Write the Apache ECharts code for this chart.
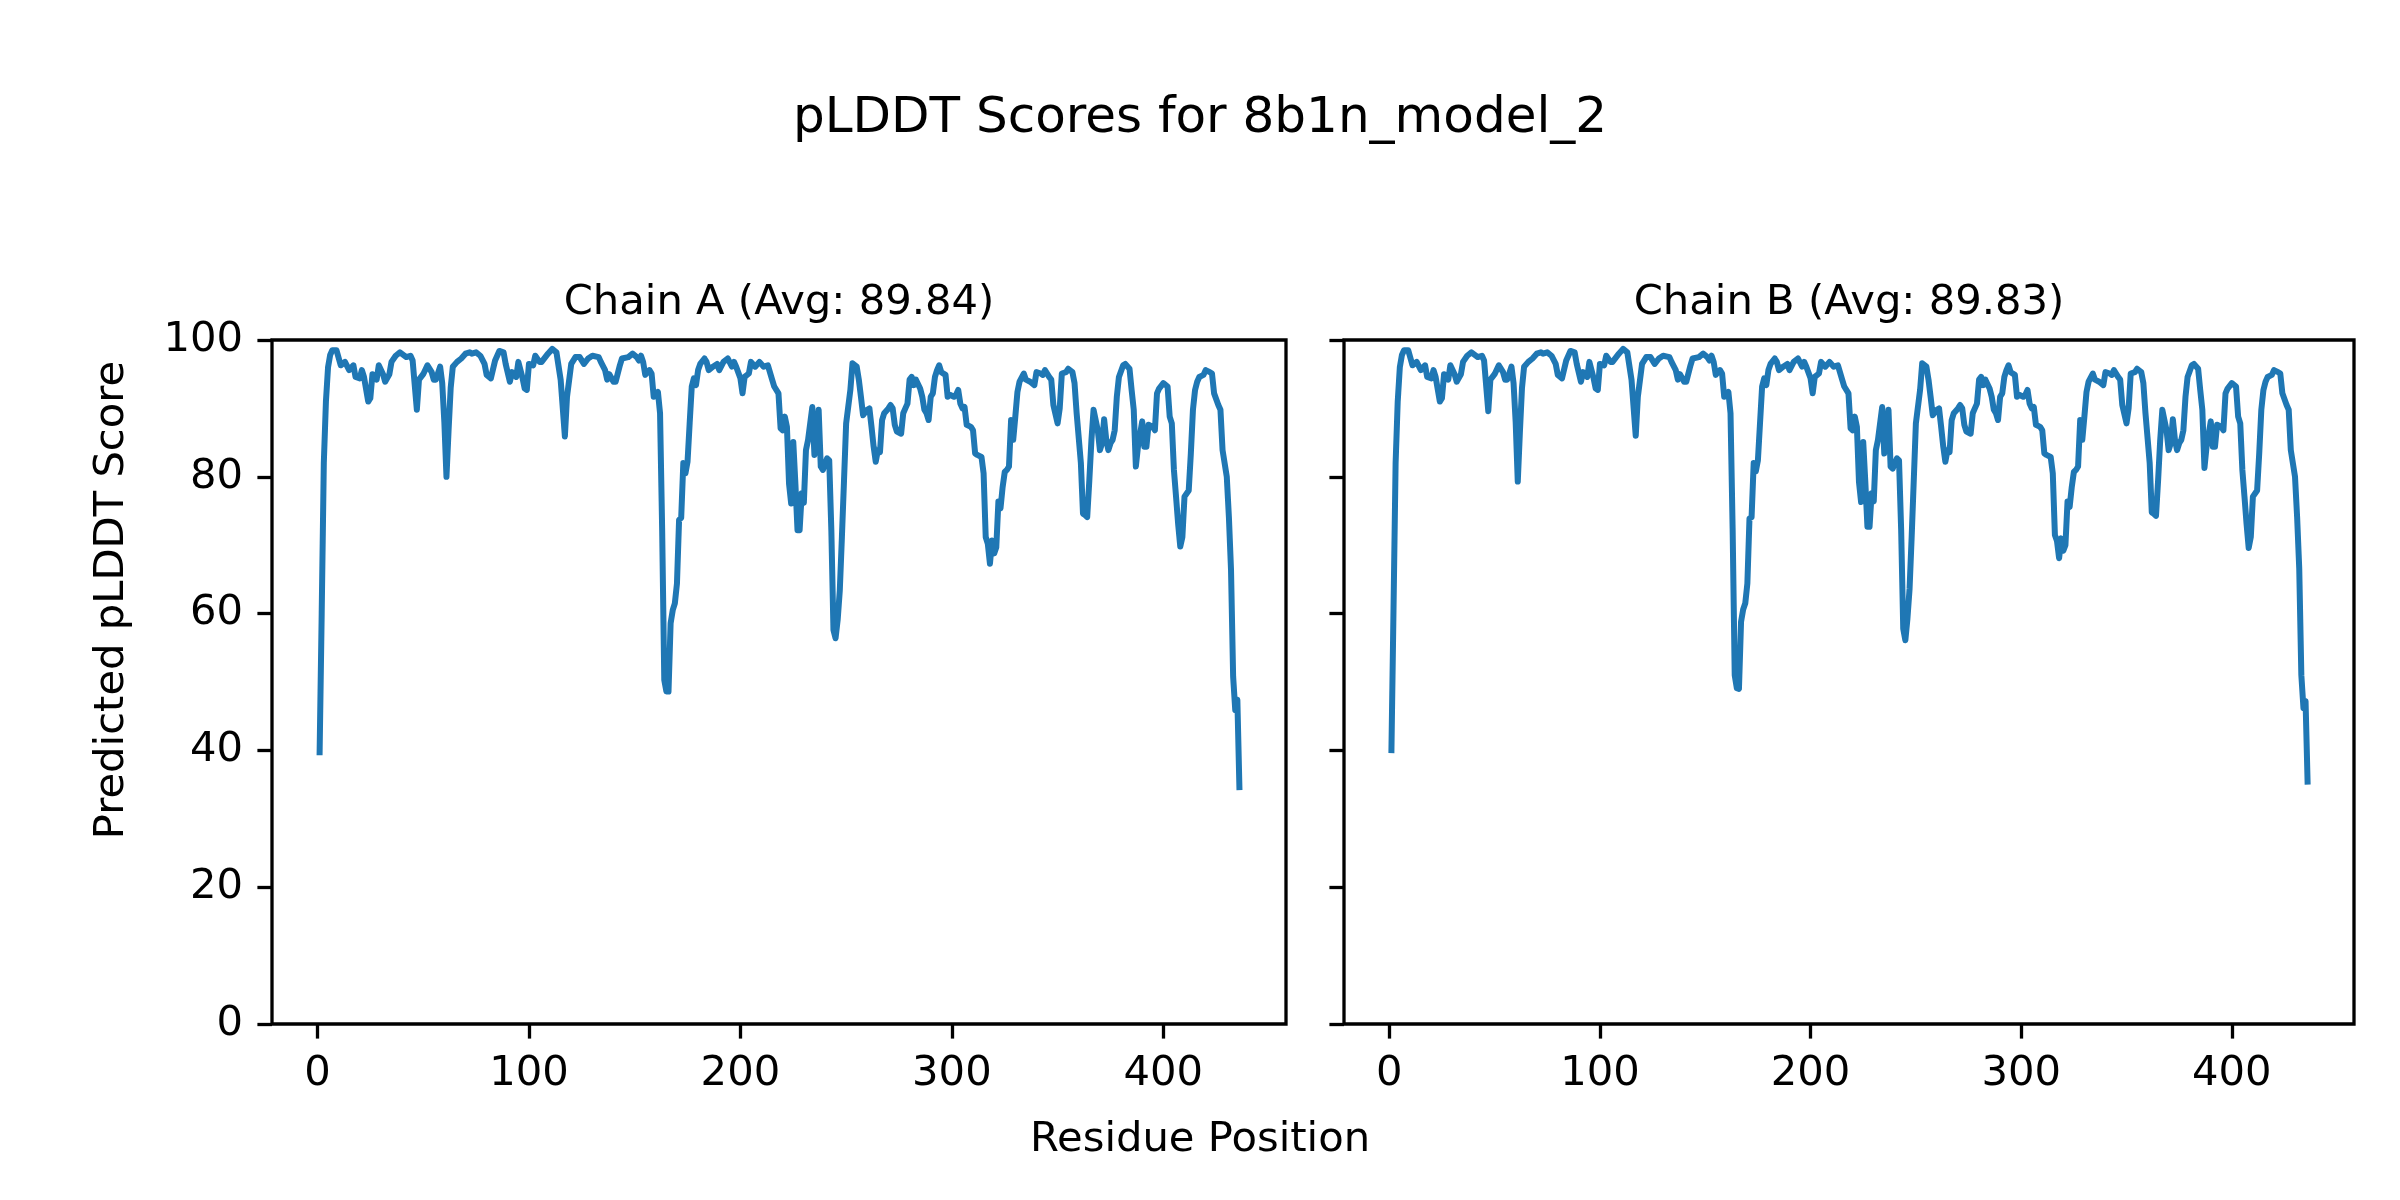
<!DOCTYPE html>
<html>
<head>
<meta charset="utf-8">
<script src="https://cdn.jsdelivr.net/npm/echarts@6/dist/echarts.min.js"></script>
<style>
html,body{margin:0;padding:0;background:#fff;}
#chart{width:2400px;height:1200px;}
</style>
</head>
<body>
<div id="chart"></div>
<script>
// ---------------- DATA ----------------
const figureTitle = 'pLDDT Scores for 8b1n_model_2';
const chainTitles = ['Chain A (Avg: 89.84)', 'Chain B (Avg: 89.83)'];
const xAxisTitle = 'Residue Position';
const yAxisTitle = 'Predicted pLDDT Score';
const xTicks = [0, 100, 200, 300, 400];
const yTicks = [0, 20, 40, 60, 80, 100];

const residues = [
  1,2,3,4,5,6,7,9,11,13,15,17,18,20,21,22,24,25,26,28,29,31,32,34,35,37,39,42,44,45,
  47,48,50,52,54,55,56,58,59,60,61,62,63,64,66,68,70,72,73,75,77,79,80,82,84,86,88,89,91,92,
  94,95,97,98,99,100,102,103,105,106,109,111,113,115,117,118,120,122,124,126,128,130,133,134,136,137,138,140,141,143,
  144,147,149,151,152,153,154,155,157,158,159,161,162,163,164,165,166,167,168,169,170,171,172,173,174,175,176,177,178,179,
  180,181,183,184,185,187,189,190,192,194,196,197,198,200,201,202,204,205,207,209,211,213,215,216,218,219,220,221,222,223,
  224,225,226,227,228,229,230,231,232,234,235,237,238,239,241,242,243,244,245,246,247,248,249,250,252,253,255,256,257,258,
  260,261,262,263,264,265,266,267,268,270,271,272,273,274,276,277,278,279,280,281,282,283,285,286,287,288,289,290,291,292,
  293,294,295,297,298,299,301,302,303,304,305,306,307,309,310,311,312,314,315,316,317,318,319,320,321,322,323,324,325,326,
  327,328,329,330,331,332,334,335,337,339,340,342,343,344,346,347,348,350,351,352,354,355,357,358,359,361,362,363,364,365,
  366,367,368,369,370,371,372,373,374,375,376,377,378,379,381,382,384,385,386,387,388,390,391,392,393,395,396,397,398,400,
  402,403,404,405,406,407,408,409,410,412,413,414,415,416,417,419,420,422,423,424,426,427,428,430,431,432,433,434,435,436
];

const scoresA = [
  39.3,60,82,91,96,97.8,98.5,98.5,96.3,96.8,95.6,96.3,94.6,94.4,95.6,94.6,91.0,91.5,95,94.2,96.3,95,93.9,95,96.8,97.7,98.2,97.5,97.7,97,
  89.8,94.2,95,96.3,95.3,94.2,94.2,96.1,93.7,88,80,86.8,93,96.1,96.8,97.3,98,98.2,98,98.2,97.7,96.5,94.9,94.4,97,98.4,98.2,96.5,93.9,95.3,
  94.6,96.8,94.4,92.9,92.7,96.5,96.3,97.7,96.8,96.8,98,98.7,98.2,94.2,85.9,91.7,96.5,97.5,97.5,96.5,97.3,97.7,97.5,96.8,95.6,94.2,95,93.9,93.9,96.3,
  97.3,97.5,98,97.5,97,97.7,96.8,94.9,95.6,95.1,91.7,92.4,89.3,72.2,50.3,48.6,48.6,58.6,60.5,61.5,64.4,73.7,74,82,80.5,82.2,87.8,93.2,94.4,93.4,
  95.6,96.5,97.3,96.8,95.6,96.1,96.5,95.6,96.8,97.3,96.1,96.8,96.1,94.4,92.2,94.6,95.1,96.8,96.1,96.8,96.1,96.3,94.2,93.2,92.2,87.1,86.8,88.8,87.3,79,
  76.1,85.1,79,72.2,72.2,77.6,76.2,83.9,85.4,90.2,83.2,89.8,81.5,81,82.7,82.4,72.2,57.6,56.4,59.1,63.4,71.2,79.5,87.8,92.7,96.6,96.1,94.2,91.7,89,
  89.8,90,87.3,84.4,82.2,83.9,83.6,88.3,89.3,90,90.5,90,87.6,86.6,86.3,89.3,90,90.7,94.2,94.6,93.4,94.2,92.9,91.7,89.8,89.3,88.3,91.7,92.2,94.6,
  95.6,96.3,95.3,94.9,91.7,92,91.7,92,92.7,90.7,90,90.2,87.6,87.3,86.8,83.4,83.2,82.9,80.5,71.2,70.2,67.3,70.7,68.8,69.7,76.4,75.4,78.5,80.7,81,
  81.5,88.3,85.4,88.8,92.4,93.9,95.1,94.2,93.9,93.4,95.3,95.1,94.9,95.6,94.6,94.2,90.5,87.8,90,95.1,95.3,95.8,95.3,93.7,89.3,82,74.6,74.4,74.1,79.5,
  85.4,89.8,88.3,86.8,83.9,84.9,88.4,85.4,83.9,84.9,85.4,86.8,91.7,94.6,96.3,96.5,95.8,92.7,89.8,81.5,84.4,88.1,84.4,84.4,87.6,87.3,86.8,92.2,92.9,93.7,
  93.2,88.8,87.8,81,77.1,73.1,69.8,71.2,77.1,78,83.4,89.8,92.7,93.9,94.6,94.9,95.6,95.3,95.1,92.2,90.5,89.8,83.9,80,74.1,66.4,50.8,45.9,47.4,34.2
];

const scoresB = [
  39.6,60.5,82,91,96,97.8,98.5,98.5,96.3,96.8,95.6,96.3,94.6,94.4,95.6,94.6,91.0,91.5,95,94.2,96.3,95,93.9,95,96.8,97.7,98.2,97.5,97.7,97,
  89.6,94.2,95,96.3,95.3,94.2,94.2,96.1,93.7,88,79.3,86.5,93,96.1,96.8,97.3,98,98.2,98,98.2,97.7,96.5,94.9,94.4,97,98.4,98.2,96.5,93.9,95.3,
  94.6,96.8,94.4,92.9,92.7,96.5,96.3,97.7,96.8,96.8,98,98.7,98.2,94.2,86.0,91.7,96.5,97.5,97.5,96.5,97.3,97.7,97.5,96.8,95.6,94.2,95,93.9,93.9,96.3,
  97.3,97.5,98,97.5,97,97.7,96.8,94.9,95.6,95.1,91.7,92.4,89.3,72.5,51.0,49.1,49.0,58.8,60.6,61.5,64.4,73.9,74.1,82,80.8,82.4,87.8,93.2,94.4,93.4,
  95.6,96.5,97.3,96.8,95.6,96.1,96.5,95.6,96.8,97.3,96.1,96.8,96.1,94.4,92.2,94.6,95.1,96.8,96.1,96.8,96.1,96.3,94.2,93.2,92.2,87.1,86.8,88.8,87.3,79.2,
  76.3,85.1,79.2,72.7,72.7,77.6,76.4,83.9,85.4,90.2,83.4,89.8,81.5,81.2,82.7,82.4,72.4,57.8,56.1,59.3,63.6,71.2,79.5,87.8,92.7,96.6,96.1,94.2,91.7,89,
  89.8,90,87.3,84.4,82.2,83.9,83.6,88.3,89.3,90,90.5,90,87.6,86.6,86.3,89.3,90,90.7,94.2,94.6,93.4,94.2,92.9,91.7,89.8,89.3,88.3,91.7,92.2,94.6,
  95.6,96.3,95.3,94.9,91.7,92,91.7,92,92.7,90.7,90,90.2,87.6,87.3,86.8,83.4,83.2,82.9,80.5,71.5,70.6,68.1,71.0,69.2,70.0,76.4,75.6,78.5,80.7,81,
  81.5,88.3,85.4,88.8,92.4,93.9,95.1,94.2,93.9,93.4,95.3,95.1,94.9,95.6,94.6,94.2,90.5,87.8,90,95.1,95.3,95.8,95.3,93.7,89.3,82,74.8,74.6,74.3,79.5,
  85.4,89.8,88.3,86.8,83.9,84.9,88.4,85.4,83.9,84.9,85.4,86.8,91.7,94.6,96.3,96.5,95.8,92.7,89.8,81.3,84.4,88.1,84.4,84.4,87.6,87.3,86.8,92.2,92.9,93.7,
  93.2,88.8,87.8,81,77.1,73.1,69.6,71.2,77.1,78,83.4,89.8,92.7,93.9,94.6,94.9,95.6,95.3,95.1,92.2,90.5,89.8,83.9,80,74.1,66.6,51.0,46.2,47.2,35.0
];

// ---------------- CHART ----------------
const FONT = 'DejaVu Sans';
const BLUE = '#1f77b4';
const gridsPx = [
  {left: 272, top: 340, width: 1014, height: 684},
  {left: 1344, top: 340, width: 1010, height: 684}
];

const chart = echarts.init(document.getElementById('chart'), null, {renderer: 'canvas'});

const allScores = [scoresA, scoresB];

const textStyle = (size) => ({
  font: size + 'px "' + FONT + '"', fill: '#000',
  align: 'center', verticalAlign: 'middle', textAlign: 'center', textVerticalAlign: 'middle'
});

const option = {
  animation: false,
  backgroundColor: '#ffffff',
  grid: gridsPx.map(g => Object.assign({}, g, {
    show: true, borderColor: '#000', borderWidth: 3.3, backgroundColor: 'transparent', containLabel: false
  })),
  xAxis: gridsPx.map((g, i) => ({
    type: 'value', gridIndex: i, min: -21.5, max: 458,
    axisLine: {show: false, onZero: false},
    splitLine: {show: false},
    axisTick: {show: true, inside: false, length: 14.6, customValues: xTicks,
      lineStyle: {color: '#000', width: 3.3}},
    axisLabel: {show: true, customValues: xTicks, margin: 29, fontSize: 41.7,
      color: '#000', fontFamily: FONT}
  })),
  yAxis: gridsPx.map((g, i) => ({
    type: 'value', gridIndex: i, min: 0, max: 100, interval: 20,
    axisLine: {show: false, onZero: false},
    splitLine: {show: false},
    axisTick: {show: true, inside: false, length: 14.6,
      lineStyle: {color: '#000', width: 3.3}},
    axisLabel: {show: i === 0, margin: 29, fontSize: 41.7, color: '#000', fontFamily: FONT}
  })),
  series: allScores.map((sc, i) => ({
    type: 'line', xAxisIndex: i, yAxisIndex: i,
    data: residues.map((r, k) => [r, sc[k]]),
    showSymbol: false, symbol: 'none', smooth: false,
    lineStyle: {color: BLUE, width: 6, join: 'round', cap: 'butt'},
    clip: true
  })),
  graphic: [
    {type: 'text', x: 1200, y: 119, style: Object.assign({text: figureTitle}, textStyle(50))},
    {type: 'text', x: gridsPx[0].left + gridsPx[0].width / 2, y: 303,
      style: Object.assign({text: chainTitles[0]}, textStyle(41.7))},
    {type: 'text', x: gridsPx[1].left + gridsPx[1].width / 2, y: 303,
      style: Object.assign({text: chainTitles[1]}, textStyle(41.7))},
    {type: 'text', x: 1200, y: 1140, style: Object.assign({text: xAxisTitle}, textStyle(41.7))},
    {type: 'text', x: 112, y: 600, rotation: Math.PI / 2,
      style: Object.assign({text: yAxisTitle}, textStyle(41.7))}
  ]
};

chart.setOption(option);
</script>
</body>
</html>
